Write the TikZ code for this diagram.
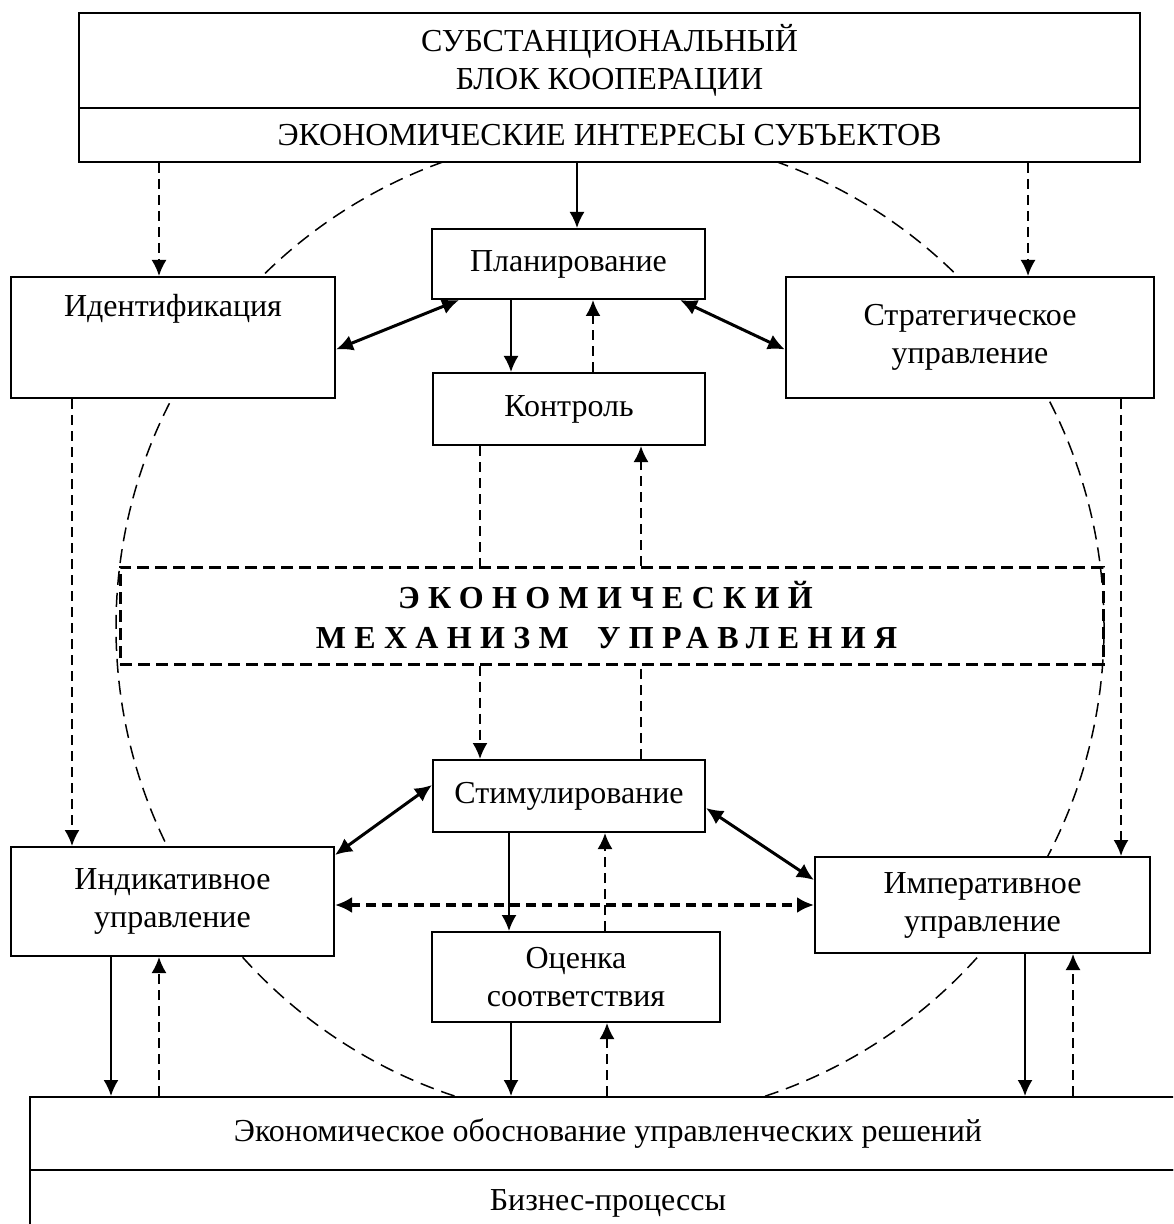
\documentclass[tikz,border=0pt]{standalone}
\usepackage{fontspec}
\setmainfont{Liberation Serif}
\newfontfamily\mechfont[LetterSpace=26]{Liberation Serif}
\usetikzlibrary{arrows.meta}
\begin{document}
\begin{tikzpicture}[x=0.5pt,y=-0.5pt,
  font=\fontsize{16pt}{19pt}\selectfont,
  box/.style={draw, fill=white, line width=1pt, align=center, inner sep=0pt},
  sol/.style={line width=1pt, -{Latex[length=8pt,width=7.5pt]}},
  dsh/.style={line width=1pt, dash pattern=on 5pt off 3pt, -{Latex[length=8pt,width=7.5pt]}},
  dshline/.style={line width=1pt, dash pattern=on 5pt off 3pt},
  dbl/.style={line width=1.5pt, {Latex[length=8.5pt,width=8pt]}-{Latex[length=8.5pt,width=8pt]}},
  dbldsh/.style={line width=1.6pt, dash pattern=on 5pt off 3pt, {Latex[length=8.5pt,width=8pt]}-{Latex[length=8.5pt,width=8pt]}},
  circ/.style={line width=0.75pt, dash pattern=on 7pt off 4pt},
  mechbox/.style={draw, line width=1.5pt, dash pattern=on 6pt off 3pt, align=center, inner sep=0pt}]
\useasboundingbox (0,0) rectangle (1173,1224);
\clip (0,0) rectangle (1173,1224);
% coordinates for vertical connectors
\coordinate (xA) at (577,0);
\coordinate (xB) at (159,0);
\coordinate (xC) at (1028,0);
\coordinate (xD) at (511,0);
\coordinate (xE) at (593,0);
\coordinate (xF) at (480,0);
\coordinate (xG) at (641,0);
\coordinate (xH) at (509,0);
\coordinate (xI) at (605,0);
\coordinate (xJ) at (72,0);
\coordinate (xK) at (1121,0);
\coordinate (xL) at (111,0);
\coordinate (xM) at (159,0);
\coordinate (xN) at (511,0);
\coordinate (xO) at (607,0);
\coordinate (xP) at (1025,0);
\coordinate (xQ) at (1073,0);
\coordinate (y905) at (0,905);
% dashed circle
\draw[circ] (610,627) circle [radius=247pt];
% boxes
\node[box, minimum width=530.5pt, minimum height=47.5pt] (topA) at (609.5,60.5) {СУБСТАНЦИОНАЛЬНЫЙ\\БЛОК КООПЕРАЦИИ};
\node[box, minimum width=530.5pt, minimum height=27pt] (topB) at (609.5,135) {ЭКОНОМИЧЕСКИЕ ИНТЕРЕСЫ СУБЪЕКТОВ};
\node[box, minimum width=136.5pt, minimum height=35pt] (plan) at (568.5,264) {Планирование};
\node[box, minimum width=162pt, minimum height=60.5pt] (ident) at (173,337.5) {};
\node (identlbl) at (173,309) {Идентификация};
\node[box, minimum width=184pt, minimum height=60.5pt] (strat) at (970,337.5) {Стратегическое\\управление};
\node[box, minimum width=136pt, minimum height=36pt] (kontrol) at (569,409) {Контроль};
\node[mechbox, minimum width=491.5pt, minimum height=48.5pt] (mech) at (611.5,615.5)
  {\mechfont\bfseries ЭКОНОМИЧЕСКИЙ\hspace*{6pt}\\[1pt]\mechfont\bfseries МЕХАНИЗМ\hspace{6pt} УПРАВЛЕНИЯ\hspace*{5pt}};
\node[box, minimum width=136pt, minimum height=36pt] (stim) at (569,796) {Стимулирование};
\node[box, minimum width=161.5pt, minimum height=54.5pt] (indik) at (172.5,901.5) {Индикативное\\управление};
\node[box, minimum width=167.5pt, minimum height=48pt] (imper) at (982.5,905) {Императивное\\управление};
\node[box, minimum width=144pt, minimum height=45pt] (ocenka) at (576,977) {Оценка\\соответствия};
\node[box, minimum width=578pt, minimum height=36.5pt] (botA) at (608,1133.5) {Экономическое обоснование управленческих решений};
\node[box, minimum width=578pt, minimum height=33pt] (botB) at (608,1203) {Бизнес-процессы};
% connectors
\draw[sol] (topB.south -| xA) -- (plan.north -| xA);
\draw[dsh] (topB.south -| xB) -- (ident.north -| xB);
\draw[dsh] (topB.south -| xC) -- (strat.north -| xC);
\draw[dbl] ([yshift=-6pt]ident.east) -- ([xshift=14pt]plan.south west);
\draw[dbl] ([xshift=-13pt]plan.south east) -- ([yshift=-6pt]strat.west);
\draw[sol] (plan.south -| xD) -- (kontrol.north -| xD);
\draw[dsh] (kontrol.north -| xE) -- (plan.south -| xE);
\draw[dshline] (kontrol.south -| xF) -- (mech.north -| xF);
\draw[dsh] (mech.north -| xG) -- (kontrol.south -| xG);
\draw[dsh] (mech.south -| xF) -- (stim.north -| xF);
\draw[dshline] (stim.north -| xG) -- (mech.south -| xG);
\draw[dbl] ([yshift=5.5pt]stim.west) -- ([yshift=-4.5pt]indik.north east);
\draw[dbl] ([yshift=-6pt]stim.east) -- ([yshift=12.5pt]imper.west);
\draw[sol] (stim.south -| xH) -- (ocenka.north -| xH);
\draw[dsh] (ocenka.north -| xI) -- (stim.south -| xI);
\draw[dbldsh] (indik.east |- y905) -- (imper.west |- y905);
\draw[dsh] (ident.south -| xJ) -- (indik.north -| xJ);
\draw[dsh] (strat.south -| xK) -- (imper.north -| xK);
\draw[sol] (indik.south -| xL) -- (botA.north -| xL);
\draw[dsh] (botA.north -| xM) -- (indik.south -| xM);
\draw[sol] (ocenka.south -| xN) -- (botA.north -| xN);
\draw[dsh] (botA.north -| xO) -- (ocenka.south -| xO);
\draw[sol] (imper.south -| xP) -- (botA.north -| xP);
\draw[dsh] (botA.north -| xQ) -- (imper.south -| xQ);
\end{tikzpicture}
\end{document}
